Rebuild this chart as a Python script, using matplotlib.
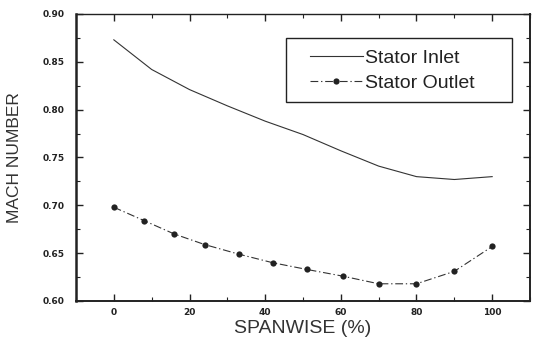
import matplotlib
matplotlib.use("Agg")
import matplotlib.pyplot as plt
from matplotlib.patches import Rectangle
from matplotlib.ticker import MultipleLocator, FormatStrFormatter

# Mach number distribution along the span
inlet_span = [0, 10, 20, 30, 40, 50, 60, 70, 80, 90, 100]
inlet_mach = [0.873, 0.842, 0.821, 0.804, 0.788, 0.774, 0.757, 0.741, 0.730, 0.727, 0.730]

outlet_span = [0, 8, 16, 24, 33, 42, 51, 60.5, 70, 80, 90, 100]
outlet_mach = [0.698, 0.684, 0.670, 0.659, 0.649, 0.640, 0.633, 0.626, 0.618, 0.618, 0.631, 0.657]

series_labels = ["Stator Inlet", "Stator Outlet"]
x_label = "SPANWISE (%)"
y_label = "MACH NUMBER"

W, H = 535, 347
fig = plt.figure(figsize=(W / 100, H / 100), dpi=100)
fig.patch.set_facecolor("white")
ax = fig.add_axes([76 / W, 1 - 301 / H, (530 - 76) / W, (301 - 14) / H])

ink = "#222222"
ax.plot(inlet_span, inlet_mach, color="#333333", lw=0.8, label=series_labels[0])
ax.plot(outlet_span, outlet_mach, color="#333333", lw=0.8, linestyle=(0, (7, 2.5, 1.2, 2.5)),
        marker="o", markersize=4.5, markeredgewidth=0, markerfacecolor=ink,
        label=series_labels[1])

ax.set_xlim(-10, 110)
ax.set_ylim(0.60, 0.90)
ax.xaxis.set_major_locator(MultipleLocator(20))
ax.xaxis.set_minor_locator(MultipleLocator(10))
ax.yaxis.set_major_locator(MultipleLocator(0.05))
ax.yaxis.set_minor_locator(MultipleLocator(0.025))
ax.yaxis.set_major_formatter(FormatStrFormatter("%.2f"))

ax.tick_params(which="both", direction="in", top=True, right=True, color=ink)
ax.tick_params(which="major", length=5, width=1.0)
ax.tick_params(which="minor", length=3, width=0.8)
ax.tick_params(axis="both", labelsize=6.5, labelcolor=ink)
ax.tick_params(axis="x", pad=5)
ax.tick_params(axis="y", pad=8)
for lab in ax.get_xticklabels() + ax.get_yticklabels():
    lab.set_fontweight("bold")

for side, lw in (("left", 1.8), ("bottom", 1.4), ("right", 1.4), ("top", 1.0)):
    ax.spines[side].set_linewidth(lw)
    ax.spines[side].set_color(ink)

ax.set_xlabel(x_label, fontsize=14, family="Liberation Sans", color="#333333", labelpad=2)
ax.set_ylabel(y_label, fontsize=12.5, family="Liberation Sans", color="#333333")
ax.yaxis.set_label_coords(-0.119, 0.5)

leg = ax.legend(loc="upper left", bbox_to_anchor=(310 / W, 1 - 49 / H),
                bbox_transform=fig.transFigure, frameon=False, borderpad=0,
                borderaxespad=0, handlelength=2.7, handletextpad=0.15,
                labelspacing=0.4, prop={"family": "Liberation Sans", "size": 14})
for t in leg.get_texts():
    t.set_color(ink)

fig.patches.append(Rectangle((286 / W, 1 - 102 / H), (512 - 286) / W, (102 - 38) / H,
                             transform=fig.transFigure, fill=False, edgecolor=ink, lw=1.0))

fig.savefig("out.png", dpi=100)
